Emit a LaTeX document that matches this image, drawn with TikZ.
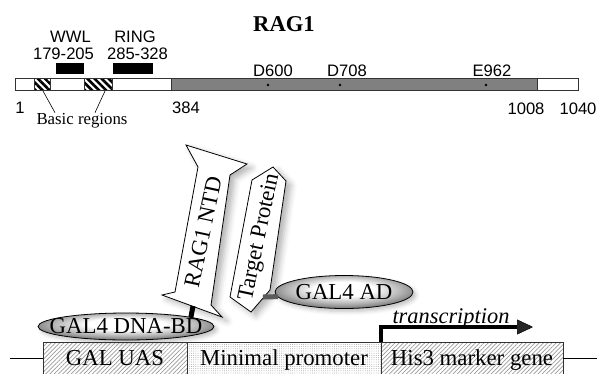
\documentclass[tikz,border=0pt]{standalone}
\usepackage{fontspec}
\setmainfont{Liberation Serif}
\setsansfont{Liberation Sans}
\usepackage{tikz}
\usetikzlibrary{arrows.meta,positioning,shapes.geometric,patterns.meta,shadows.blur}
\definecolor{bargray}{HTML}{808080}
\definecolor{linegray}{HTML}{333333}
\definecolor{tethergray}{HTML}{5A5A5A}
\definecolor{hatchgray}{HTML}{9A9A9A}
\pgfdeclareradialshading{galshade}{\pgfpoint{0bp}{6bp}}{color(0bp)=(white); color(11bp)=(white); color(21bp)=(black!30); color(26bp)=(black!48); color(50bp)=(black!48)}
\tikzset{
  seriflbl/.style={font=\fontsize{22.8}{26}\selectfont, inner sep=0pt},
  sanslbl/.style={font=\sffamily\fontsize{16.6}{19}\selectfont, inner sep=0pt},
  barpart/.style={draw=linegray, line width=0.8pt},
  basicbox/.style={draw=linegray, line width=0.8pt, pattern={Lines[angle=-45,distance=5pt,line width=2.6pt]}, pattern color=black},
  motif/.style={fill=black},
  site/.style={fill=black},
  domainshape/.style={draw=black, fill=white, line width=0.8pt, blur shadow={shadow xshift=5pt, shadow yshift=-4pt, shadow blur radius=6pt, shadow opacity=30}},
  galellipse/.style={ellipse, draw=black, line width=0.8pt, inner sep=0pt, outer sep=0pt, shading=galshade, blur shadow={shadow xshift=3pt, shadow yshift=-3pt, shadow blur radius=4pt, shadow opacity=25}},
  genebox/.style={draw=linegray, line width=0.8pt, minimum height=32pt, inner sep=0pt, outer sep=0pt, text height=15.5pt, text depth=0pt, seriflbl},
  hatched/.style={pattern={Lines[angle=45,distance=3pt,line width=0.7pt]}, pattern color=hatchgray},
  dotted/.style={pattern={Dots[distance=2.2pt,radius=0.45pt]}, pattern color=hatchgray},
  tether/.style={line width=5pt},
  dnaline/.style={draw=black, line width=0.8pt},
  txarrow/.style={line width=4pt, -{Triangle[length=16pt,width=15pt,line width=0.5pt]}}
}
\begin{document}
\begin{tikzpicture}[x=1pt, y=-1pt]
  \useasboundingbox (0,0) rectangle (597,373);

  \node[font=\bfseries\fontsize{22.6}{26}\selectfont, inner sep=0pt, anchor=base] (title) at (284,31.7) {RAG1};

  \fill[motif] (56,63) rectangle (84,74);
  \fill[motif] (113,63) rectangle (153,74);
  \node[sanslbl] (wwl) at (70.5,36.5) {WWL};
  \node[sanslbl] (wwlpos) at (63.5,53.5) {179-205};
  \node[sanslbl] (ring) at (135,36.5) {RING};
  \node[sanslbl] (ringpos) at (137.5,53.5) {285-328};

  \draw[barpart, fill=white] (15,78) rectangle (171,90);
  \draw[barpart, fill=bargray] (171,78) rectangle (537,90);
  \draw[barpart, fill=white] (537,78) rectangle (578,90);
  \draw[basicbox] (34,78) rectangle (50,90);
  \draw[basicbox] (84,78) rectangle (112,90);

  \fill[site] (268,85) circle[radius=1.4pt];
  \fill[site] (340,85) circle[radius=1.4pt];
  \fill[site] (486,85) circle[radius=1.4pt];
  \node[sanslbl] (d600) at (273,70.5) {D600};
  \node[sanslbl] (d708) at (347,70.5) {D708};
  \node[sanslbl] (e962) at (492,71) {E962};

  \node[sanslbl] (pos1) at (20,107.5) {1};
  \node[sanslbl] (pos384) at (186,107.5) {384};
  \node[sanslbl] (pos1008) at (526,108.5) {1008};
  \node[sanslbl] (pos1040) at (578,108.5) {1040};

  \node[font=\fontsize{16.8}{19}\selectfont, inner sep=0pt, anchor=base] (basic) at (82,124) {Basic regions};
  \coordinate (stripeA) at (43,91);
  \coordinate (stripeB) at (105,91);
  \draw[line width=0.6pt] (stripeA) -- ([xshift=-27pt]basic.north);
  \draw[line width=0.6pt] (stripeB) -- ([xshift=13pt]basic.north);

  \draw[domainshape] (186,145) -- (247,164) -- (230,175) -- (211,305) -- (222,317) -- (162,295) -- (175,292) -- (198,167) -- cycle;
  \node[seriflbl, rotate=78] (ragntd) at (203,232) {RAG1 NTD};
  \draw[domainshape] (273,167) -- (286,181) -- (270,290) -- (251,312) -- (230,297) -- (252,180) -- cycle;
  \node[seriflbl, rotate=78] (target) at (260,237) {Target Protein};

  \node[galellipse, minimum width=176pt, minimum height=27pt, label={[seriflbl]center:GAL4 DNA-BD}] (dnabd) at (126,326.5) {};
  \node[galellipse, minimum width=138pt, minimum height=33pt, label={[seriflbl]center:GAL4 AD}] (gal4ad) at (344,292) {};

  \coordinate (ragfoot) at (193,306);
  \coordinate (targetside) at (263,297);
  \draw[tether] (ragfoot) -- (dnabd.8);
  \draw[tether, draw=tethergray] (targetside) -- (gal4ad.184);

  \node[genebox, hatched, minimum width=144pt] (uas) at (115,358) {GAL UAS};
  \node[genebox, dotted, right=0pt of uas, minimum width=194pt] (minprom) {Minimal promoter};
  \node[genebox, hatched, right=0pt of minprom, minimum width=182pt] (his3) {His3 marker gene};
  \coordinate (dnaleft) at (10,358);
  \coordinate (dnaright) at (597,358);
  \draw[dnaline] (dnaleft) -- (uas.west);
  \draw[dnaline] (his3.east) -- (dnaright);

  \coordinate (txend) at (533,327);
  \draw[txarrow] (his3.north west) |- (txend);
  \node[seriflbl, font=\itshape\fontsize{22.4}{26}\selectfont, anchor=base] (txlabel) at (451,323) {transcription};
\end{tikzpicture}
\end{document}
